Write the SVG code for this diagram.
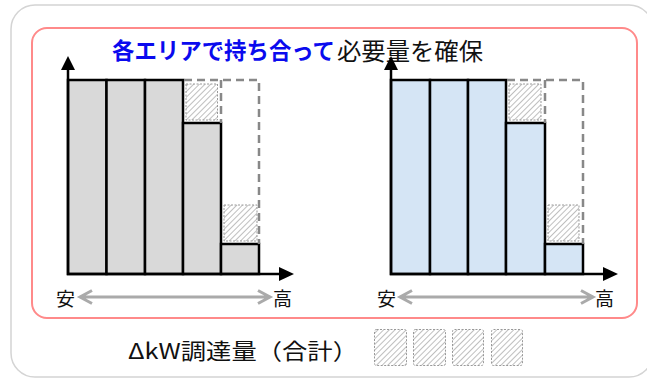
<svg xmlns="http://www.w3.org/2000/svg" width="647" height="379" viewBox="0 0 647 379">
<style>
.t{font-family:"Noto Sans CJK JP","Noto Sans",sans-serif;}
.bar1{fill:#d9d9d9;stroke:#000;stroke-width:2.5;}
.bar2{fill:#d5e5f5;stroke:#000;stroke-width:2.5;}
.hatch{fill:url(#hp);stroke:#999;stroke-width:1;stroke-dasharray:2 1.5;}
.dash{fill:none;stroke:#888;stroke-width:2.5;stroke-dasharray:8 5;}
.axis{stroke:#000;stroke-width:2.5;fill:none;}
.garrow{stroke:#aaa;stroke-width:3;fill:none;}
</style>
<defs>
<pattern id="hp" patternUnits="userSpaceOnUse" width="4" height="4" patternTransform="rotate(45)">
<rect width="4" height="4" fill="#fff"/>
<line x1="0" y1="0" x2="0" y2="4" stroke="#8a8a8a" stroke-width="1.1"/>
</pattern>
</defs>
<rect x="11" y="5" width="642" height="372" rx="24" fill="#fff" stroke="#d4d4d4" stroke-width="1.5"/>
<rect id="frame" x="32" y="28" width="605" height="290" rx="15" fill="#fff" stroke="#ff8a8a" stroke-width="2"/>
<g id="title">
<text class="t" x="112" y="59" font-size="23" font-weight="bold" fill="#0a0aee" textLength="223" lengthAdjust="spacingAndGlyphs">各エリアで持ち合って</text>
<text class="t" x="337" y="60" font-size="24" fill="#111" textLength="146" lengthAdjust="spacingAndGlyphs">必要量を確保</text>
</g>
<g id="chart-left">
<rect class="bar1" x="68" y="80" width="38.5" height="194"/>
<rect class="bar1" x="106.5" y="80" width="38.5" height="194"/>
<rect class="bar1" x="145" y="80" width="38" height="194"/>
<rect class="bar1" x="183" y="123" width="38" height="151"/>
<rect class="bar1" x="221" y="244" width="38" height="30"/>
<path class="dash" d="M184,80 H259 V244 M221,80 V123"/>
<rect class="hatch" x="186" y="84" width="31.5" height="36"/>
<rect class="hatch" x="224" y="205" width="33" height="36"/>
</g>
<g id="chart-right">
<rect class="bar2" x="391" y="80" width="39" height="194"/>
<rect class="bar2" x="430" y="80" width="38" height="194"/>
<rect class="bar2" x="468" y="80" width="38" height="194"/>
<rect class="bar2" x="506" y="123" width="39" height="151"/>
<rect class="bar2" x="545" y="244" width="38" height="30"/>
<path class="dash" d="M507,80 H583 V244 M545,80 V123"/>
<rect class="hatch" x="509" y="84" width="32" height="36"/>
<rect class="hatch" x="548" y="205" width="31" height="36"/>
</g>
<g id="connectors">
<path class="axis" d="M68,68 V274 H280"/>
<polygon points="68,56 61,70 75,70" fill="#000"/>
<polygon points="294,274 279,267 279,281" fill="#000"/>
<path class="axis" d="M391,68 V274 H604"/>
<polygon points="391,56 384,70 398,70" fill="#000"/>
<polygon points="618,274 603,267 603,281" fill="#000"/>
<path class="garrow" d="M80,297 H270 M92,290.5 L80,297 L92,303.5 M258,290.5 L270,297 L258,303.5"/>
<path class="garrow" d="M400,297 H593 M412,290.5 L400,297 L412,303.5 M581,290.5 L593,297 L581,303.5"/>
</g>
<g id="labels">
<text class="t" x="56" y="306" font-size="19" fill="#111">安</text>
<text class="t" x="273" y="306" font-size="19" fill="#111">高</text>
<text class="t" x="377" y="306" font-size="19" fill="#111">安</text>
<text class="t" x="595" y="306" font-size="19" fill="#111">高</text>
</g>
<g id="legend">
<text class="t" x="128" y="359" font-size="22" fill="#111" textLength="230" lengthAdjust="spacingAndGlyphs">ΔkW調達量（合計）</text>
<rect class="hatch" x="374.5" y="329.5" width="32" height="36" rx="2"/>
<rect class="hatch" x="413.5" y="329.5" width="32" height="36" rx="2"/>
<rect class="hatch" x="452.5" y="329.5" width="31" height="36" rx="2"/>
<rect class="hatch" x="491.5" y="329.5" width="31" height="36" rx="2"/>
</g>
</svg>
